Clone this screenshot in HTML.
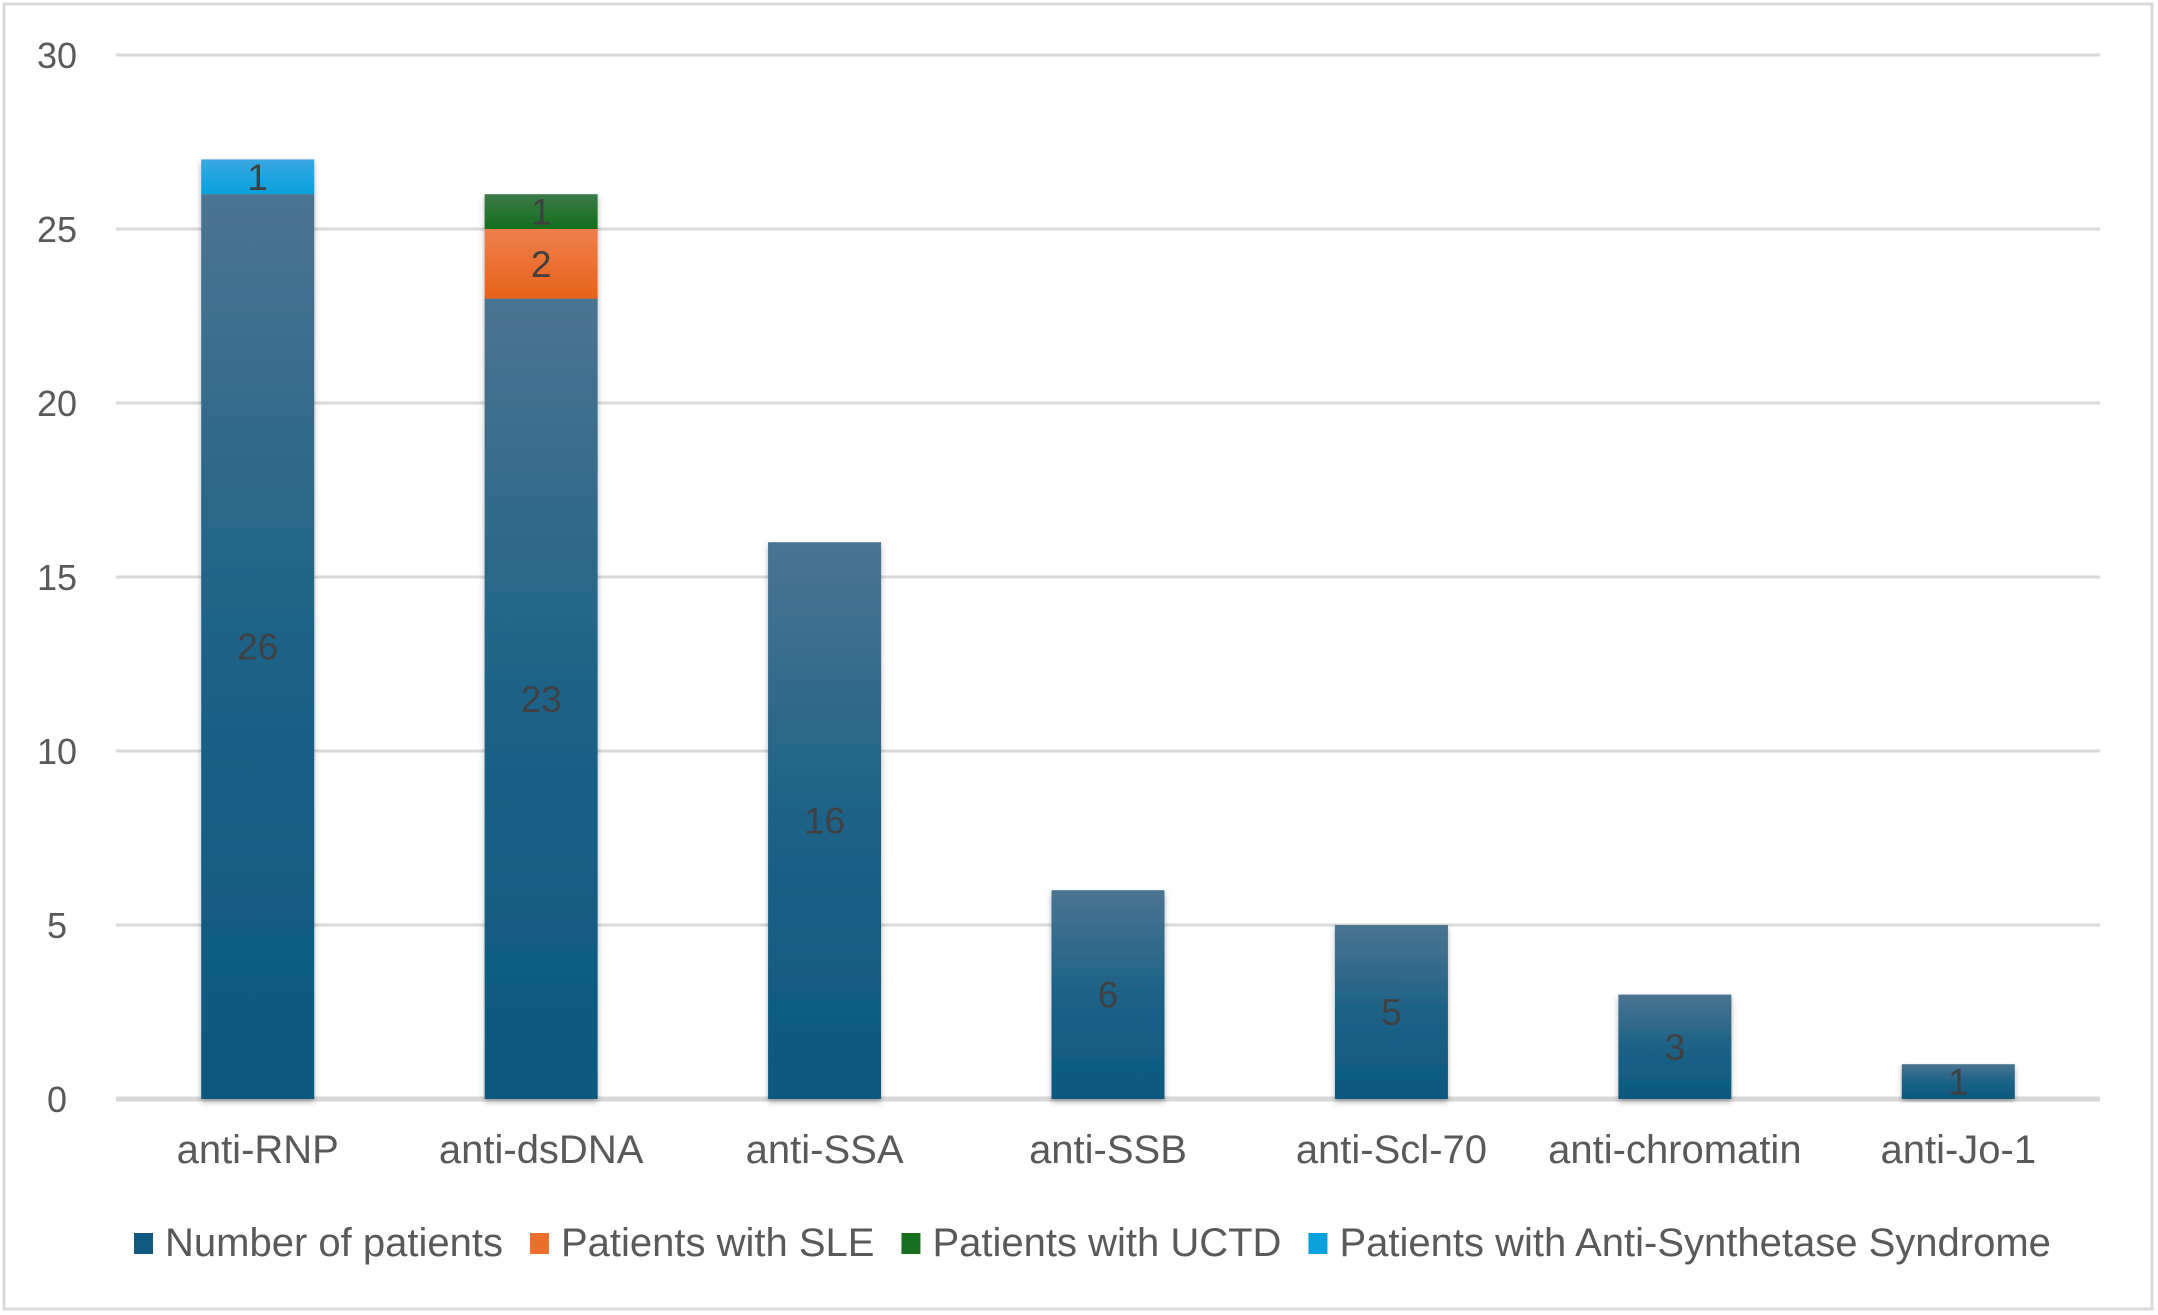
<!DOCTYPE html>
<html><head><meta charset="utf-8"><style>
html,body{margin:0;padding:0;background:#fff;}
svg{display:block;font-family:"Liberation Sans",sans-serif;}
</style></head><body>
<svg id="chart" width="2158" height="1315" viewBox="0 0 2158 1315" xmlns="http://www.w3.org/2000/svg">
<defs>
<linearGradient id="gBlue" x1="0" y1="0" x2="0" y2="1"><stop offset="0" stop-color="#4b7491"/><stop offset="0.5" stop-color="#1c6287"/><stop offset="1" stop-color="#0b587e"/></linearGradient>
<linearGradient id="gOrange" x1="0" y1="0" x2="0" y2="1"><stop offset="0" stop-color="#ef7f4d"/><stop offset="1" stop-color="#e8621a"/></linearGradient>
<linearGradient id="gGreen" x1="0" y1="0" x2="0" y2="1"><stop offset="0" stop-color="#3c7a48"/><stop offset="1" stop-color="#126e1c"/></linearGradient>
<linearGradient id="gCyan" x1="0" y1="0" x2="0" y2="1"><stop offset="0" stop-color="#3aa8e0"/><stop offset="1" stop-color="#06a0dc"/></linearGradient>
<filter id="sh" x="-10%" y="-10%" width="120%" height="120%"><feDropShadow dx="0" dy="3" stdDeviation="3" flood-color="#000" flood-opacity="0.3"/></filter>
</defs>
<rect x="4" y="4" width="2148" height="1305" fill="#fff" stroke="#d9d9d9" stroke-width="3"/>
<g id="grid"></g>
<g id="bars"></g>
<g id="labels"></g>
<g id="legend"></g>
</svg>
<script>
const categories = ["anti-RNP","anti-dsDNA","anti-SSA","anti-SSB","anti-Scl-70","anti-chromatin","anti-Jo-1"];
const numberOfPatients = [26,23,16,6,5,3,1];
const patientsSLE = [0,2,0,0,0,0,0];
const patientsUCTD = [0,1,0,0,0,0,0];
const patientsASS = [1,0,0,0,0,0,0];
const yTicks = [0,5,10,15,20,25,30];
const seriesNames = ["Number of patients","Patients with SLE","Patients with UCTD","Patients with Anti-Synthetase Syndrome"];

const NS="http://www.w3.org/2000/svg";
const X0=116, X1=2100, Y0=1099, Y30=55, YMAX=30;
const yScale=v=>Y0-(Y0-Y30)*v/YMAX;
const band=(X1-X0)/categories.length;
const xCenter=i=>X0+band*(i+0.5);
const barW=113;
function mk(tag,attrs,parent){const e=document.createElementNS(NS,tag);for(const k in attrs)e.setAttribute(k,attrs[k]);parent.appendChild(e);return e;}
const grid=document.getElementById('grid'),bars=document.getElementById('bars'),labels=document.getElementById('labels'),legend=document.getElementById('legend');

yTicks.forEach(t=>{
  const l=mk('line',{x1:X0,x2:X1,y1:yScale(t),y2:yScale(t),stroke:'#d9d9d9','stroke-width':t===0?5:3},grid);
  
  
  const tx=mk('text',{x:57,y:yScale(t)+13,'text-anchor':'middle','font-size':36,fill:'#595959'},grid);
  tx.textContent=t;
  
  
});

const series=[numberOfPatients,patientsSLE,patientsUCTD,patientsASS];
const fills=['url(#gBlue)','url(#gOrange)','url(#gGreen)','url(#gCyan)'];
categories.forEach((c,i)=>{
  let base=0;
  const cx=xCenter(i);
  const g=mk('g',{filter:'url(#sh)'},bars);
  
  
  series.forEach((s,k)=>{
    const v=s[i]; if(!v) return;
    const yt=yScale(base+v), yb=yScale(base);
    const r=mk('rect',{x:cx-barW/2,y:yt,width:barW,height:yb-yt,fill:fills[k]},g);
    
    
    const t=mk('text',{x:cx,y:(yt+yb)/2+13,'text-anchor':'middle','font-size':37,fill:'#404040'},labels);
    t.textContent=v;
    
    
    base+=v;
  });
  const ct=mk('text',{x:cx,y:1163,'text-anchor':'middle','font-size':40,fill:'#595959'},labels);
  ct.textContent=c;
  
  
});

const legColors=['#0e5a80','#ec6f2d','#17701f','#0aa0dc'];
let lx=134;
seriesNames.forEach((n,k)=>{
  const sw=mk('rect',{x:lx,y:1233,width:19,height:21,fill:legColors[k]},legend);
  
  
  const t=mk('text',{x:lx+31,y:1256,'font-size':40,fill:'#595959'},legend);
  t.textContent=n;
  
  
  lx+=31+t.getComputedTextLength()+27;
});
</script>
</body></html>
